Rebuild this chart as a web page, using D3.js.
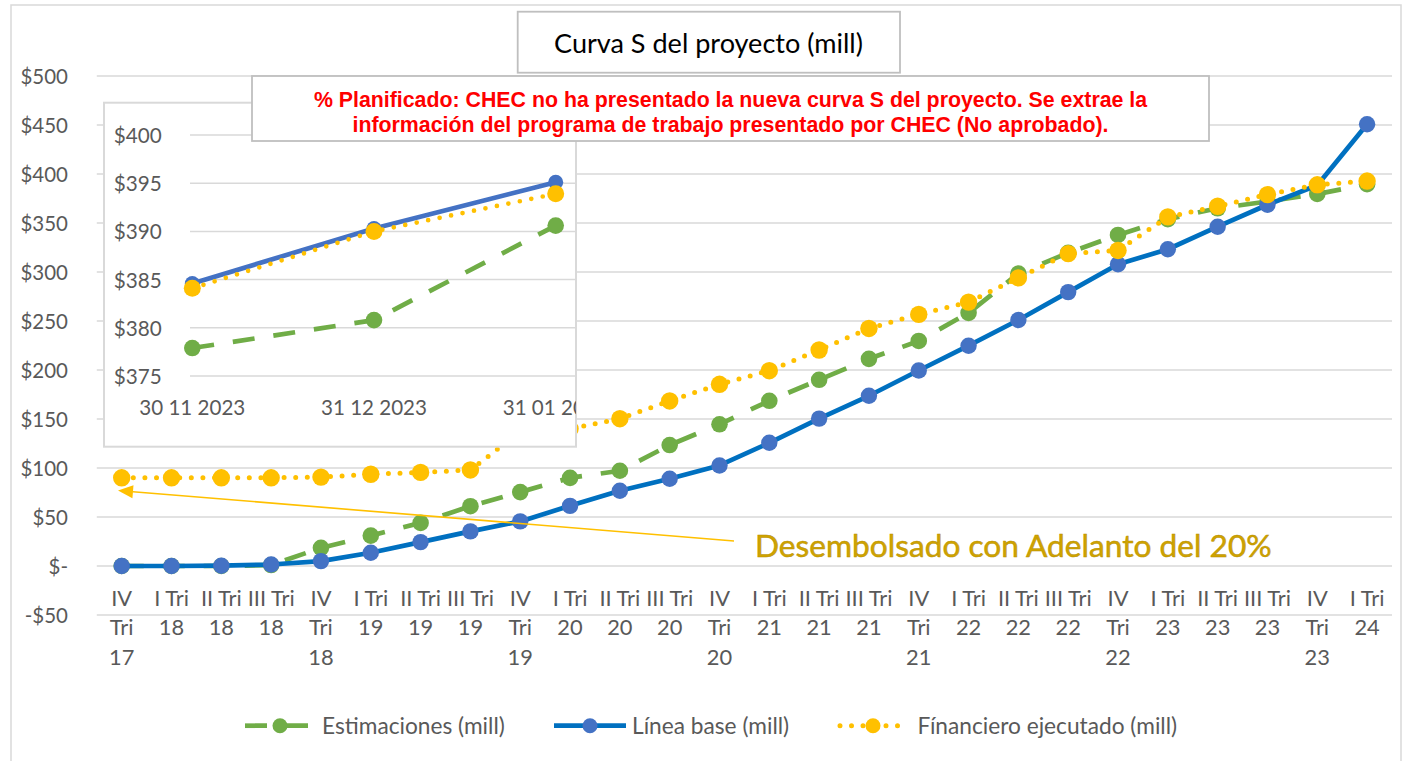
<!DOCTYPE html>
<html><head><meta charset="utf-8">
<script src="https://cdn.jsdelivr.net/npm/d3@7"></script>
<style>html,body{margin:0;padding:0;background:#fff;} svg{display:block}</style>
</head><body><svg id="c" width="1411" height="761"></svg>
<script>
// ---------- DATA ----------
const categories = ["IV Tri 17","I Tri 18","II Tri 18","III Tri 18","IV Tri 18","I Tri 19","II Tri 19","III Tri 19","IV Tri 19","I Tri 20","II Tri 20","III Tri 20","IV Tri 20","I Tri 21","II Tri 21","III Tri 21","IV Tri 21","I Tri 22","II Tri 22","III Tri 22","IV Tri 22","I Tri 23","II Tri 23","III Tri 23","IV Tri 23","I Tri 24"];
const estimaciones = [0,0,0,1,18.5,31,44,61,75.4,89.9,97.2,123.4,144.6,168.6,190,211.4,229.6,258.3,298.4,319.5,337.8,354,365,372,379.6,389.6];
const lineaBase    = [0,0,0.3,1.5,5,13.5,24.4,35.3,45.5,61.4,76.8,89,102.6,125.7,150.4,173.7,199.5,224.8,251,279.5,307.9,323.2,346.2,368.6,388.5,450.8];
const financiero   = [90,90,90,90,90.7,93.6,95.5,98,137,140,150.3,168.4,185.4,199.3,220.4,242.4,256.8,269.3,294,318.8,322,356.2,367.1,379,389,392.8];
const yTicks = [-50,0,50,100,150,200,250,300,350,400,450,500];

const insetDates = ["30 11 2023","31 12 2023","31 01 2024"];
const insetEst  = [377.9,380.8,390.6];
const insetBase = [384.6,390.3,395.1];
const insetFin  = [384.1,390.0,393.9];
const insetTicks = [375,380,385,390,395,400];

const seriesNames = ["Estimaciones (mill)","Línea base (mill)","Fínanciero ejecutado (mill)"];
const titleText = "Curva S del proyecto (mill)";
const noteLines = ["% Planificado: CHEC no ha presentado la nueva curva S del proyecto. Se extrae la","información del programa de trabajo presentado por CHEC (No aprobado)."];
const annotText = "Desembolsado con Adelanto del 20%";

// ---------- STYLE ----------
const SANS = "Lato, 'Open Sans', sans-serif";
const ARIAL = "'Liberation Sans', Arial, sans-serif";
const GREEN = "#70AD47", BLUE_L = "#0070C0", BLUE_M = "#4472C4", GOLD = "#FFC000";
const GRID = "#D9D9D9", LBL = "#595959";

const svg = d3.select("#c");
svg.append("rect").attr("width",1411).attr("height",761).attr("fill","#fff");

function fitSize(text, target, family, weight){
  const t = svg.append("text").attr("font-family",family).attr("font-weight",weight||"normal").attr("font-size",100).text(text);
  const w = t.node().getComputedTextLength(); t.remove();
  return 100*target/w;
}
const fsTick = fitSize("$500", 47.5, SANS);
const fsCat  = fitSize("III Tri", 47, SANS);
const fsInY  = fitSize("$400", 48, SANS);
const fsInX  = fitSize("30 11 2023", 106, SANS);
const fsLeg  = fitSize(seriesNames[0], 183, SANS);
const fsTitle= fitSize(titleText, 309, SANS);
const fsNote = fitSize(noteLines[0], 834, ARIAL, "bold");
const fsAnn  = fitSize(annotText, 517, SANS);

// outer border
svg.append("rect").attr("x",11).attr("y",5).attr("width",1390).attr("height",770)
  .attr("fill","none").attr("stroke",GRID).attr("stroke-width",1.5);

// ---------- MAIN SCALES ----------
const x = d3.scaleBand().domain(categories).range([96.8,1392]).padding(0);
const cx = c => x(c) + x.bandwidth()/2;
const y = d3.scaleLinear().domain([-50,500]).range([615,76]);

// gridlines
svg.append("g").selectAll("line").data(yTicks).join("line")
  .attr("x1",96.8).attr("x2",1392).attr("y1",d=>y(d)).attr("y2",d=>y(d))
  .attr("stroke",GRID).attr("stroke-width",1.5);

// y labels
const fmt = d => d===0 ? "$-" : (d<0 ? "-$"+Math.abs(d) : "$"+d);
svg.append("g").selectAll("text").data(yTicks).join("text")
  .attr("x",68).attr("y",d=>y(d)).attr("text-anchor","end").attr("dominant-baseline","central")
  .attr("font-family",SANS).attr("font-size",fsTick).attr("fill",LBL).text(fmt);

// x labels (wrapped like the original)
function wrapLines(c){
  const p = c.split(" ");
  return p[0]==="IV" ? [p[0],p[1],p[2]] : [p[0]+" "+p[1], p[2]];
}
const xl = svg.append("g").selectAll("text").data(categories).join("text")
  .attr("text-anchor","middle").attr("font-family",SANS).attr("font-size",fsCat).attr("fill",LBL);
xl.each(function(c){
  const t = d3.select(this);
  wrapLines(c).forEach((s,i)=>{
    t.append("tspan").attr("x",cx(c)).attr("y",597.7+i*29.2).attr("dominant-baseline","central").text(s);
  });
});

// ---------- SERIES ----------
const line = d3.line().x((d,i)=>cx(categories[i])).y(d=>y(d));
function drawSeries(g, vals, lineFn, opts){
  g.append("path").attr("d",lineFn(vals)).attr("fill","none")
    .attr("stroke",opts.stroke).attr("stroke-width",opts.w)
    .attr("stroke-dasharray",opts.dash||null).attr("stroke-linecap",opts.cap||"butt")
    .attr("stroke-linejoin","round");
  g.append("g").selectAll("circle").data(vals).join("circle")
    .attr("cx",(d,i)=>opts.px(i)).attr("cy",d=>opts.py(d)).attr("r",opts.r)
    .attr("fill",opts.fill);
}
const mg = svg.append("g");
drawSeries(mg, estimaciones, line, {stroke:GREEN,w:4.7,dash:"22 19",fill:GREEN,r:8.3,px:i=>cx(categories[i]),py:y});
drawSeries(mg, lineaBase, line, {stroke:BLUE_L,w:4.7,fill:BLUE_M,r:8.2,px:i=>cx(categories[i]),py:y});
drawSeries(mg, financiero, line, {stroke:GOLD,w:5,dash:"0 11.6",cap:"round",fill:GOLD,r:8.7,px:i=>cx(categories[i]),py:y});

// ---------- ANNOTATION ----------
const ax0=734, ay0=541, ax1=118, ay1=490.5;
const ang = Math.atan2(ay1-ay0, ax1-ax0);
const hl=15, hw=6.5;
const bx = ax1 - hl*Math.cos(ang), by = ay1 - hl*Math.sin(ang);
svg.append("line").attr("x1",ax0).attr("y1",ay0).attr("x2",bx).attr("y2",by)
  .attr("stroke",GOLD).attr("stroke-width",1.6);
svg.append("path")
  .attr("d",`M${ax1},${ay1} L${bx - hw*Math.sin(ang)},${by + hw*Math.cos(ang)} L${bx + hw*Math.sin(ang)},${by - hw*Math.cos(ang)} Z`)
  .attr("fill",GOLD);
svg.append("text").attr("x",755).attr("y",545).attr("dominant-baseline","central")
  .attr("font-family",SANS).attr("font-size",fsAnn).attr("fill","#CFA300")
  .attr("stroke","#B88F00").attr("stroke-width",0.5).text(annotText);

// ---------- INSET ----------
const ix0=104, iy0=102.7, ix1=576, iy1=446.7;
svg.append("clipPath").attr("id","inclip").append("rect")
  .attr("x",ix0).attr("y",iy0).attr("width",ix1-ix0).attr("height",iy1-iy0);
const ig = svg.append("g");
ig.append("rect").attr("x",ix0).attr("y",iy0).attr("width",ix1-ix0).attr("height",iy1-iy0)
  .attr("fill","#fff").attr("stroke",GRID).attr("stroke-width",2);
const ic = ig.append("g").attr("clip-path","url(#inclip)");
const ixs = d3.scalePoint().domain(insetDates).range([192.3,555.7]);
const iys = d3.scaleLinear().domain([375,400]).range([376,135]);
ic.append("g").selectAll("line").data(insetTicks).join("line")
  .attr("x1",190).attr("x2",ix1).attr("y1",d=>iys(d)).attr("y2",d=>iys(d))
  .attr("stroke",GRID).attr("stroke-width",1.5);
ic.append("g").selectAll("text").data(insetTicks).join("text")
  .attr("x",161.7).attr("y",d=>iys(d)).attr("text-anchor","end").attr("dominant-baseline","central")
  .attr("font-family",SANS).attr("font-size",fsInY).attr("fill",LBL).text(d=>"$"+d);
ic.append("g").selectAll("text").data(insetDates).join("text")
  .attr("x",d=>ixs(d)).attr("y",407.3).attr("text-anchor","middle").attr("dominant-baseline","central")
  .attr("font-family",SANS).attr("font-size",fsInX).attr("fill",LBL).text(d=>d);
const iline = d3.line().x((d,i)=>ixs(insetDates[i])).y(d=>iys(d));
drawSeries(ic, insetEst, iline, {stroke:GREEN,w:4.7,dash:"22 19",fill:GREEN,r:8.3,px:i=>ixs(insetDates[i]),py:iys});
drawSeries(ic, insetBase, iline, {stroke:BLUE_M,w:4.7,fill:BLUE_M,r:7.5,px:i=>ixs(insetDates[i]),py:iys});
drawSeries(ic, insetFin, iline, {stroke:GOLD,w:4.7,dash:"0 11.7",cap:"round",fill:GOLD,r:8.5,px:i=>ixs(insetDates[i]),py:iys});

// ---------- NOTE BOX ----------
svg.append("rect").attr("x",252).attr("y",76).attr("width",957).attr("height",65)
  .attr("fill","#fff").attr("stroke","#BFBFBF").attr("stroke-width",1.8);
svg.append("g").selectAll("text").data(noteLines).join("text")
  .attr("x",730.5).attr("y",(d,i)=>99.5+i*25).attr("text-anchor","middle").attr("dominant-baseline","central")
  .attr("font-family",ARIAL).attr("font-weight","bold").attr("font-size",fsNote).attr("fill","#FF0000").text(d=>d);

// ---------- TITLE ----------
svg.append("rect").attr("x",517.7).attr("y",11.7).attr("width",382.3).attr("height",61)
  .attr("fill","#fff").attr("stroke","#BFBFBF").attr("stroke-width",1.8);
svg.append("text").attr("x",708.5).attr("y",42).attr("text-anchor","middle").attr("dominant-baseline","central")
  .attr("font-family",SANS).attr("font-size",fsTitle).attr("fill","#000").text(titleText);

// ---------- LEGEND ----------
const ly = 725.7;
const lg = svg.append("g");
const legItems = [
  {name:seriesNames[0], x0:245, x1:309, mx:280, stroke:GREEN, fill:GREEN, dash:"22 19", cap:"butt", w:4.7, tx:322},
  {name:seriesNames[1], x0:554, x1:626, mx:590, stroke:BLUE_L, fill:BLUE_M, dash:null, cap:"butt", w:4.7, tx:632},
  {name:seriesNames[2], x0:840, x1:906, mx:873, stroke:GOLD, fill:GOLD, dash:"0 11.5", cap:"round", w:5, tx:917.5}
];
legItems.forEach(it=>{
  lg.append("line").attr("x1",it.x0).attr("x2",it.x1).attr("y1",ly).attr("y2",ly)
    .attr("stroke",it.stroke).attr("stroke-width",it.w).attr("stroke-dasharray",it.dash).attr("stroke-linecap",it.cap);
  lg.append("circle").attr("cx",it.mx).attr("cy",ly).attr("r",7.5).attr("fill",it.fill);
  lg.append("text").attr("x",it.tx).attr("y",ly).attr("dominant-baseline","central")
    .attr("font-family",SANS).attr("font-size",fsLeg).attr("fill",LBL).text(it.name);
});
</script>
</body></html>
